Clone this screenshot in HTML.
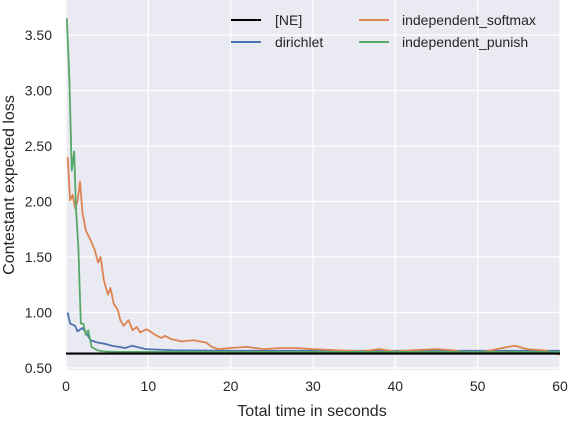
<!DOCTYPE html>
<html><head><meta charset="utf-8"><style>
body{margin:0;background:#fff;}
svg text{font-family:"Liberation Sans",Arial,sans-serif;fill:#262626;}
</style></head><body>
<svg id="chart" width="570" height="421" xmlns="http://www.w3.org/2000/svg">
<rect x="66" y="0" width="494" height="370" fill="#EAEAF2"/>
<g id="grid"></g>
<g id="series"></g>
<g id="ticks"></g>
<text x="312" y="416" font-size="16" text-anchor="middle">Total time in seconds</text>
<text transform="translate(14,185) rotate(-90)" font-size="16" text-anchor="middle">Contestant expected loss</text>
<g>
<g><line x1="231" y1="20" x2="261" y2="20" stroke="#000" stroke-width="2"/><text x="275" y="25" font-size="14">[NE]</text></g>
<g><line x1="231" y1="42" x2="261" y2="42" stroke="#4C72B0" stroke-width="2"/><text x="275" y="47" font-size="14">dirichlet</text></g>
<g><line x1="359" y1="20" x2="389" y2="20" stroke="#DD8452" stroke-width="2"/><text x="402" y="25" font-size="14">independent_softmax</text></g>
<g><line x1="359" y1="42" x2="389" y2="42" stroke="#55A868" stroke-width="2"/><text x="402" y="47" font-size="14">independent_punish</text></g>
</g>
</svg>
<script>
const xTicks=[0,10,20,30,40,50,60];
const yTicks=[0.5,1.0,1.5,2.0,2.5,3.0,3.5];
const neValue=0.63;
const punishT=[0.1,0.4,0.7,1.0,1.2,1.5,1.8,2.1,2.4,2.7,3.1,3.8,4.5,6,8,10,15,20,30,40,50,60];
const punishV=[3.65,3.12,2.28,2.45,1.95,1.59,0.90,0.90,0.80,0.84,0.69,0.66,0.65,0.645,0.645,0.645,0.645,0.645,0.645,0.645,0.645,0.645];
const softT=[0.2,0.5,0.8,1.1,1.4,1.7,2.0,2.4,3.0,3.5,3.9,4.2,4.6,5.1,5.4,5.8,6.3,6.6,7.0,7.6,8.1,8.6,9.0,9.8,10.8,11.6,12.0,12.8,14,15.5,17,17.7,18.5,20,22,24,26,28,30,33,36,38,40,42,45,47,49,51,53,54.5,56,58,60];
const softV=[2.40,2.01,2.06,1.94,2.00,2.18,1.90,1.74,1.65,1.56,1.45,1.50,1.29,1.16,1.22,1.08,1.02,0.93,0.88,0.93,0.84,0.87,0.82,0.85,0.80,0.77,0.79,0.76,0.74,0.75,0.73,0.69,0.67,0.68,0.69,0.67,0.68,0.68,0.67,0.66,0.65,0.67,0.65,0.66,0.67,0.66,0.63,0.65,0.68,0.70,0.67,0.66,0.62];
const dirT=[0.2,0.5,1.1,1.4,2.0,2.4,3.0,3.8,4.6,5.6,7.2,8.0,9.7,13,20,30,40,50,60];
const dirV=[1.00,0.90,0.88,0.83,0.86,0.82,0.75,0.73,0.72,0.70,0.68,0.70,0.67,0.66,0.655,0.655,0.655,0.655,0.655];
const X=t=>66+t*8.233;
const Y=v=>368-(v-0.5)*111;
const NS="http://www.w3.org/2000/svg";
const grid=document.getElementById('grid'),ticks=document.getElementById('ticks'),ser=document.getElementById('series');
function mk(tag,attrs,parent){const e=document.createElementNS(NS,tag);for(const k in attrs)e.setAttribute(k,attrs[k]);parent.appendChild(e);return e;}
xTicks.forEach(t=>{
 const l=mk('line',{x1:X(t),x2:X(t),y1:0,y2:370,stroke:'#fff','stroke-width':1.2},grid);
 
 
 const tx=mk('text',{x:X(t),y:391,'font-size':14,'text-anchor':'middle'},ticks);
 tx.textContent=t;
 
 
});
yTicks.forEach(v=>{
 const l=mk('line',{x1:66,x2:560,y1:Y(v),y2:Y(v),stroke:'#fff','stroke-width':1.2},grid);
 
 
 const tx=mk('text',{x:52,y:Y(v)+5,'font-size':14,'text-anchor':'end'},ticks);
 tx.textContent=v.toFixed(2);
 
 
});
function line(T,V,color,name){
 const p=mk('polyline',{points:T.map((t,i)=>X(t)+','+Y(V[i])).join(' '),fill:'none',stroke:color,'stroke-width':1.8,'stroke-linejoin':'round'},ser);
 
 
}
line(dirT,dirV,'#4C72B0','dirichlet-line');
line(softT,softV,'#DD8452','independent-softmax-line');
line(punishT,punishV,'#55A868','independent-punish-line');
const ne=mk('line',{x1:66,x2:560,y1:Y(neValue),y2:Y(neValue),stroke:'#000','stroke-width':2.2},ser);


</script>
</body></html>
